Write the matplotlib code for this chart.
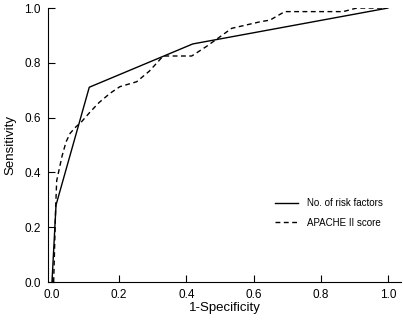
import numpy as np
import matplotlib
matplotlib.use("Agg")
from matplotlib import pyplot as plt

plt.rcParams['font.family'] = ['Liberation Sans', 'DejaVu Sans']

# ROC points
risk_fpr = [0.0, 0.012, 0.111, 0.419, 1.0]
risk_tpr = [0.0, 0.281, 0.711, 0.869, 1.0]

apache_fpr = [0.005, 0.011, 0.014, 0.03, 0.042, 0.054, 0.07, 0.088, 0.113, 0.14, 0.173,
              0.202, 0.252, 0.29, 0.331, 0.416, 0.46, 0.5, 0.535, 0.62, 0.649, 0.693,
              0.867, 0.907, 0.99]
apache_tpr = [0.0, 0.275, 0.37, 0.46, 0.512, 0.543, 0.565, 0.585, 0.62, 0.655, 0.689,
              0.713, 0.731, 0.77, 0.825, 0.825, 0.86, 0.895, 0.926, 0.95, 0.956, 0.987,
              0.987, 1.0, 1.0]

ticks = [0.0, 0.2, 0.4, 0.6, 0.8, 1.0]
tick_labels = ['0.0', '0.2', '0.4', '0.6', '0.8', '1.0']

fig = plt.figure(figsize=(4.03, 3.22), dpi=100)
ax = fig.add_axes([0.119, 0.124, 0.876, 0.851])

ax.plot(risk_fpr, risk_tpr, color='black', lw=1.0, label='No. of risk factors')
ax.plot(apache_fpr, apache_tpr, color='black', lw=1.0, ls=(0, (3.5, 2.5)), label='APACHE II score')

ax.set_xlim(-0.012, 1.039)
ax.set_ylim(0, 1.0)
ax.set_xticks(ticks)
ax.set_yticks(ticks)
ax.set_xticklabels(tick_labels)
ax.set_yticklabels(tick_labels)
ax.tick_params(direction='in', length=5, width=0.8, labelsize=8.5, pad=5)
ax.spines['top'].set_visible(False)
ax.spines['right'].set_visible(False)
ax.spines['left'].set_linewidth(0.8)
ax.spines['bottom'].set_linewidth(0.8)

ax.set_xlabel('1-Specificity', fontsize=9.5, labelpad=1)
ax.set_ylabel('Sensitivity', fontsize=9.5, labelpad=6)

ax.legend(loc='center left', bbox_to_anchor=(0.66, 0.3385), bbox_transform=fig.transFigure,
          frameon=False, fontsize=7, handlelength=2.35, handletextpad=1.0, labelspacing=0.95)

fig.savefig('out.png', dpi=100)
